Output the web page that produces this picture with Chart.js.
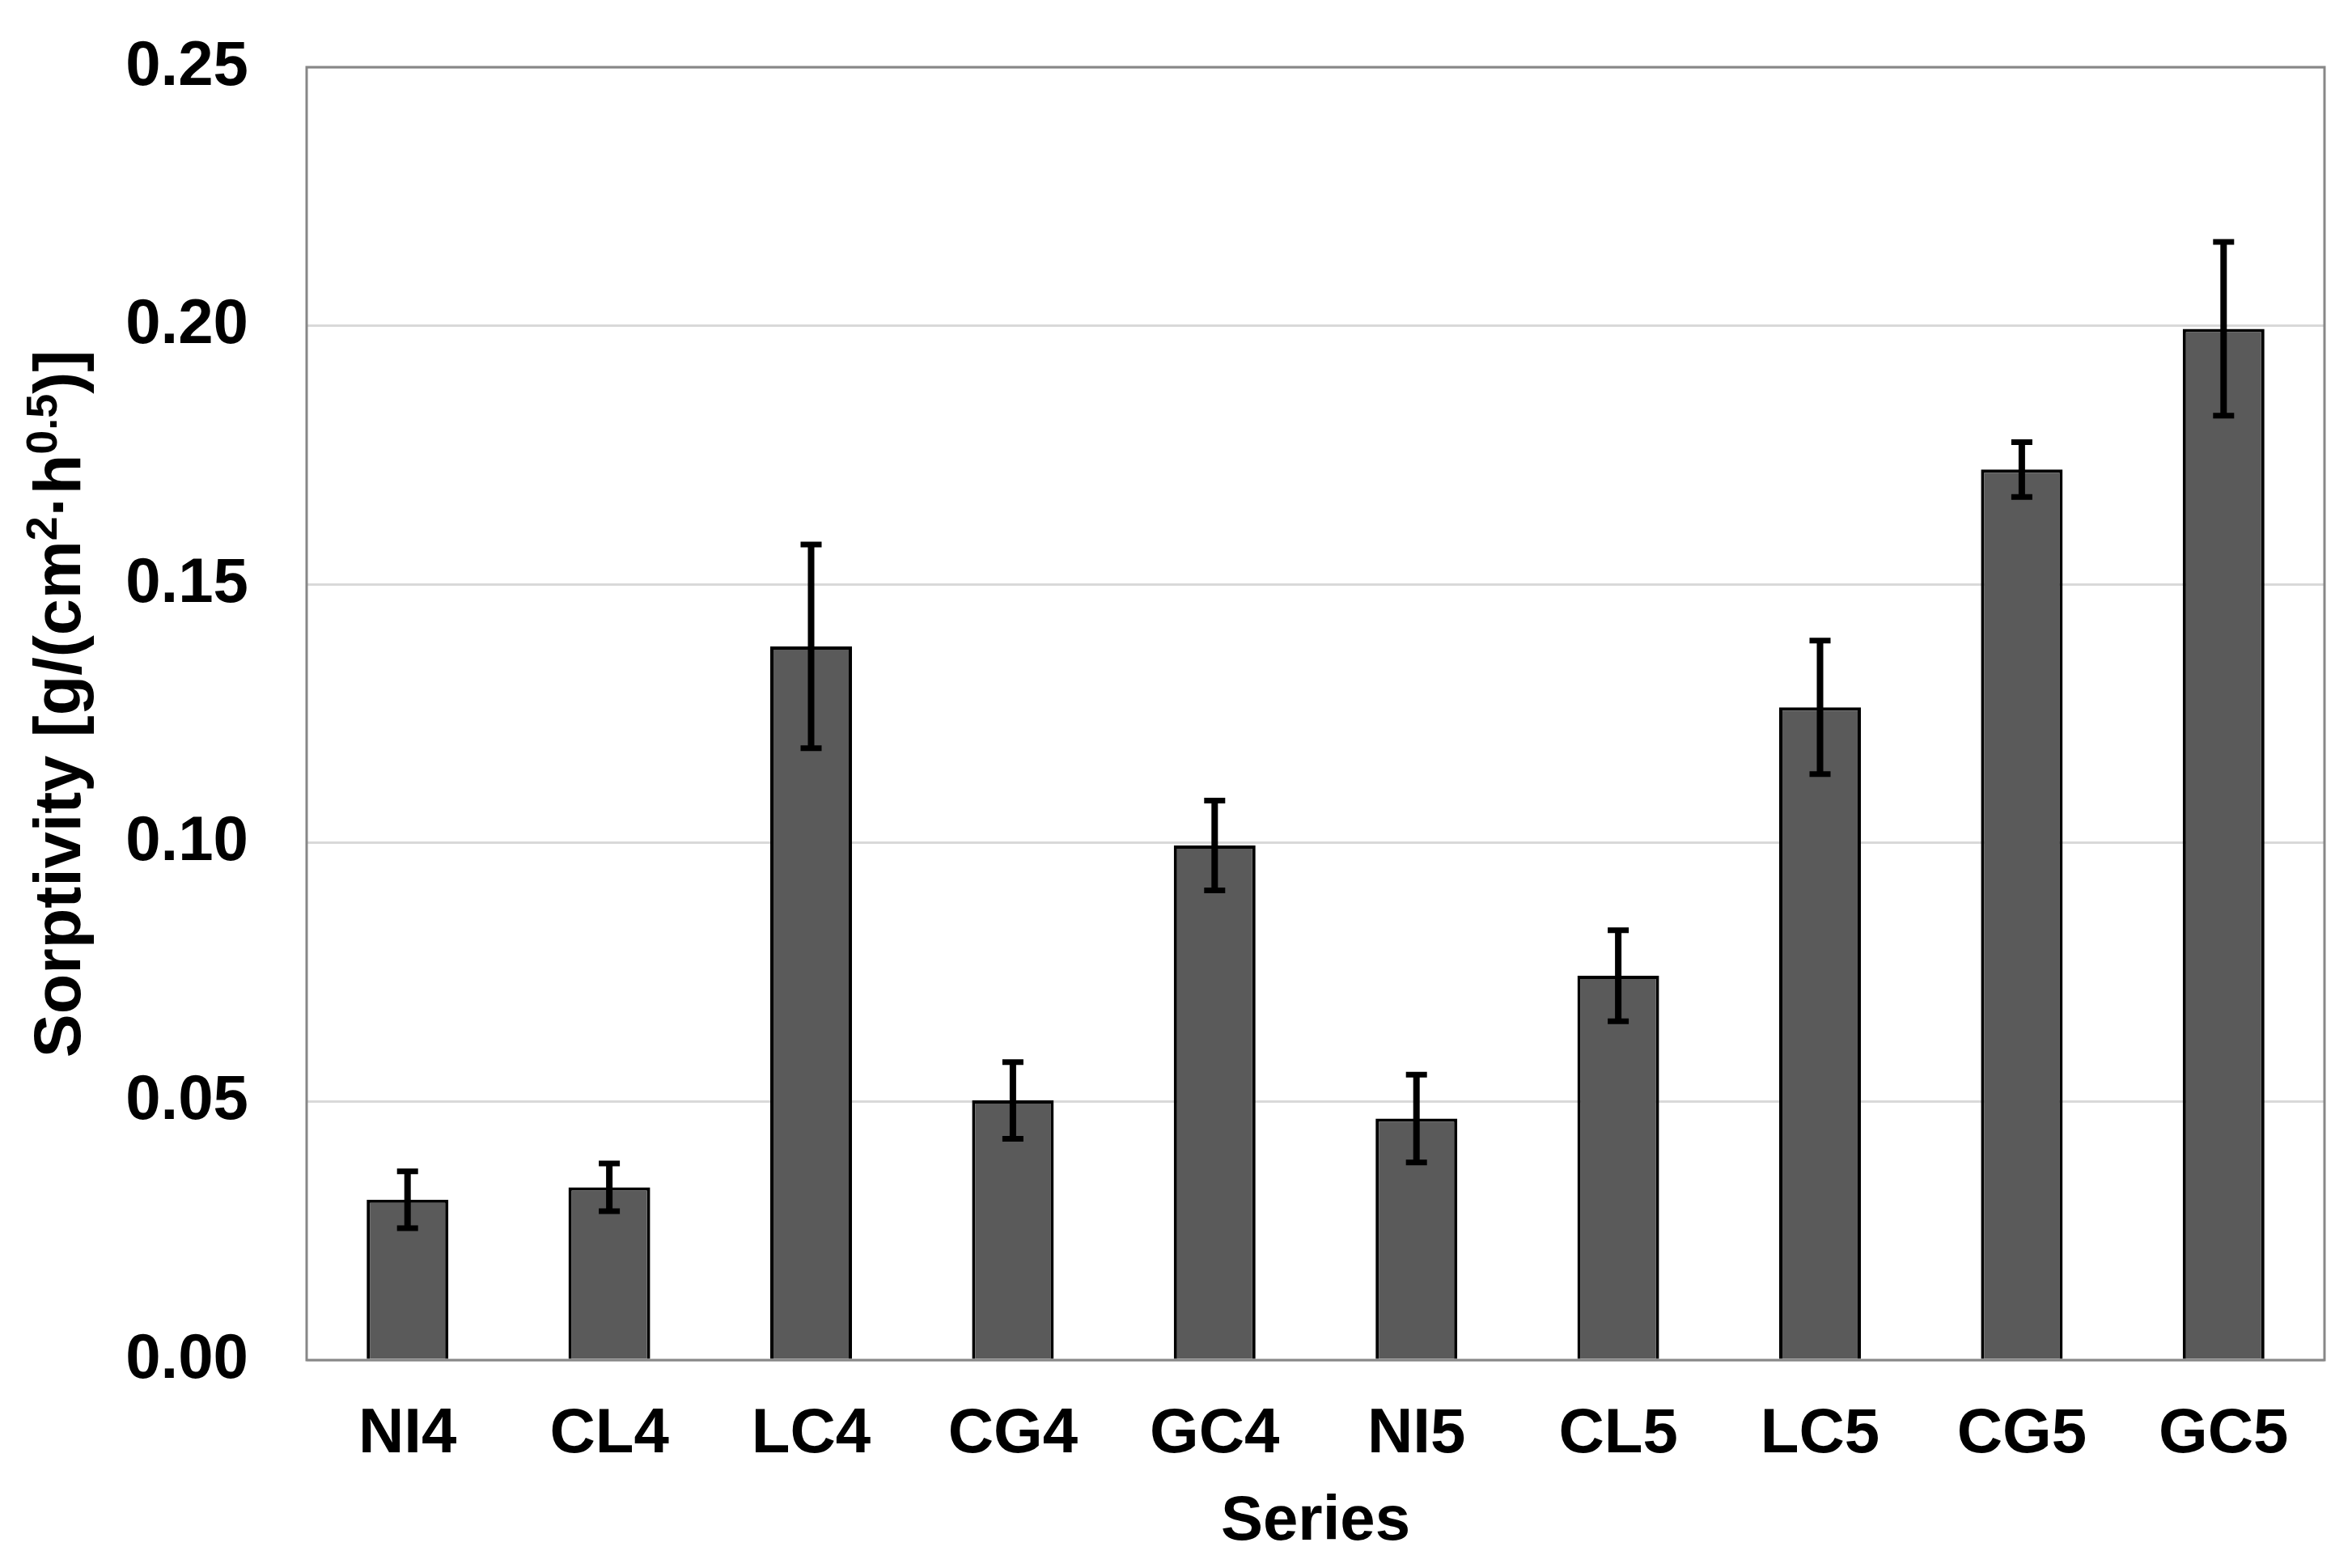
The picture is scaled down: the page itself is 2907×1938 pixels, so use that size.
<!DOCTYPE html>
<html>
<head>
<meta charset="utf-8">
<script src="https://cdn.jsdelivr.net/npm/chart.js@4/dist/chart.umd.min.js"></script>
<style>
  html, body { margin: 0; padding: 0; background: #fff; }
  #wrap { width: 2907px; height: 1938px; }
</style>
</head>
<body>
<div id="wrap"><canvas id="chart"></canvas></div>
<script>
// datos
const series = ["NI4", "CL4", "LC4", "CG4", "GC4", "NI5", "CL5", "LC5", "CG5", "GC5"];
const sorptividad = [0.0310, 0.0334, 0.1380, 0.0502, 0.0995, 0.0467, 0.0743, 0.1262, 0.1722, 0.1994];
const errores = [0.0055, 0.0046, 0.0197, 0.0074, 0.0087, 0.0085, 0.0088, 0.0129, 0.0053, 0.0168];
const ticksY = [0, 0.05, 0.10, 0.15, 0.20, 0.25];

const familia = "'Liberation Sans', Arial, sans-serif";
const fuente = { family: familia, weight: "bold", size: 78 };

// barras de error, marco y titulo del eje Y con superindices
const errorBars = {
  id: "errorBars",
  beforeDatasetsDraw(chart) {
    const a = chart.chartArea;
    const c = chart.ctx;
    c.save();
    c.strokeStyle = "#878787";
    c.lineWidth = 3;
    c.strokeRect(a.left, a.top, a.right - a.left, a.bottom - a.top);
    c.restore();
  },
  afterDatasetsDraw(chart) {
    const c = chart.ctx;
    const y = chart.scales.y;
    const meta = chart.getDatasetMeta(0);
    c.save();
    c.strokeStyle = "#000";
    meta.data.forEach((bar, i) => {
      const top = y.getPixelForValue(sorptividad[i] + errores[i]);
      const bot = y.getPixelForValue(sorptividad[i] - errores[i]);
      c.lineWidth = 8;
      c.beginPath();
      c.moveTo(bar.x, top);
      c.lineTo(bar.x, bot);
      c.stroke();
      c.lineWidth = 7;
      c.beginPath();
      c.moveTo(bar.x - 13, top);
      c.lineTo(bar.x + 13, top);
      c.moveTo(bar.x - 13, bot);
      c.lineTo(bar.x + 13, bot);
      c.stroke();
    });
    c.restore();
  },
  afterDraw(chart) {
    const c = chart.ctx;
    const partes = [
      ["Sorptivity [g/(cm", 81, 0],
      ["2", 54, -29],
      ["·h", 81, 0],
      ["0.5", 54, -29],
      [")]", 81, 0]
    ];
    let total = 0;
    partes.forEach(p => {
      c.font = "bold " + p[1] + "px " + familia;
      total += c.measureText(p[0]).width;
    });
    c.save();
    c.translate(99, 870);
    c.rotate(-Math.PI / 2);
    c.fillStyle = "#000";
    c.textBaseline = "alphabetic";
    let x = -total / 2;
    partes.forEach(p => {
      c.font = "bold " + p[1] + "px " + familia;
      c.fillText(p[0], x, p[2]);
      x += c.measureText(p[0]).width;
    });
    c.restore();
  }
};

new Chart(document.getElementById("chart"), {
  type: "bar",
  data: {
    labels: series,
    datasets: [{
      data: sorptividad,
      backgroundColor: "#5a5a5a",
      borderColor: "#000",
      borderWidth: 4,
      categoryPercentage: 1,
      barPercentage: 0.405
    }]
  },
  options: {
    responsive: true,
    maintainAspectRatio: false,
    animation: false,
    devicePixelRatio: 1,
    layout: { padding: { top: 83, right: 34, left: 0, bottom: 0 } },
    plugins: { legend: { display: false }, tooltip: { enabled: false } },
    scales: {
      x: {
        grid: { display: false, drawTicks: false, tickLength: 0 },
        border: { display: false },
        ticks: { color: "#000", font: fuente, padding: 46 },
        title: { display: true, text: "Series", color: "#000", font: fuente, padding: { top: 0, bottom: 10 } },
        afterFit(s) { s.height = 257; }
      },
      y: {
        min: 0,
        max: 0.25,
        afterBuildTicks(s) { s.ticks = ticksY.map(v => ({ value: v })); },
        grid: { color: "#d9d9d9", lineWidth: 3, drawTicks: false, tickLength: 0 },
        border: { display: false },
        ticks: {
          color: "#000",
          font: fuente,
          padding: 72,
          callback: v => v.toFixed(2)
        },
        afterFit(s) {
          s.width = 379;
          s.paddingTop = 0;
          s.paddingBottom = 0;
        }
      }
    }
  },
  plugins: [errorBars]
});
</script>
</body>
</html>
